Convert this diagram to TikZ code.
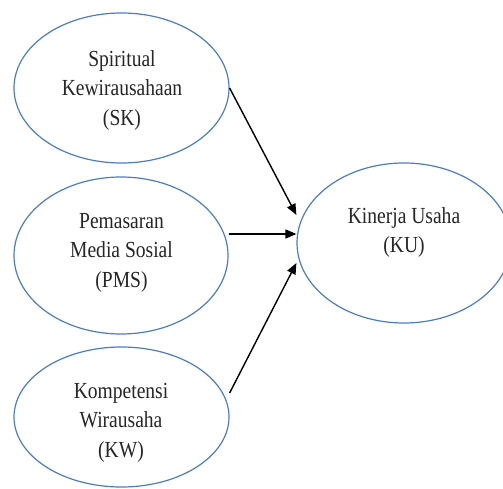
\documentclass[tikz,border=0pt]{standalone}
\usepackage{fontspec}
\setmainfont{Liberation Serif}
\usetikzlibrary{shapes.geometric,arrows.meta,calc}
\definecolor{ellblue}{HTML}{4A7EC4}
\newcommand{\lbltext}[1]{\scalebox{0.85}[1]{\fontsize{23}{29.5}\selectfont\begin{tabular}{@{}c@{}}#1\end{tabular}}}
\begin{document}
\begin{tikzpicture}[x=1pt,y=1pt,
  varell/.style={ellipse,draw=ellblue,line width=1.2pt,inner sep=0pt},
  lbl/.style={inner sep=0pt,text=black!85},
  conn/.style={line width=1.4pt,-{Triangle[length=11pt,width=9pt]}}]
\useasboundingbox (0,0) rectangle (503,488);
\fill[white] (0,0) rectangle (503,488);
\node[varell,minimum width=215,minimum height=150] (sk) at (121.5,400) {};
\node[varell,minimum width=214,minimum height=157] (pms) at (121,232.5) {};
\node[varell,minimum width=215,minimum height=140] (kw) at (121.5,71) {};
\node[varell,minimum width=214,minimum height=160] (ku) at (404,245) {};
\node[lbl] (sklbl) at (122,398) {\lbltext{Spiritual\\Kewirausahaan\\(SK)}};
\node[lbl] (pmslbl) at (121.5,236) {\lbltext{Pemasaran\\Media Sosial\\(PMS)}};
\node[lbl] (kwlbl) at (121,66) {\lbltext{Kompetensi\\Wirausaha\\(KW)}};
\node[lbl] (kulbl) at (404,256) {\lbltext{Kinerja Usaha\\(KU)}};
\draw[conn] (sk.east) -- ($(ku.west)+(0,28)$);
\draw[conn] ($(pms.east)+(0,21.5)$) -- ($(ku.west)+(0,9)$);
\draw[conn] ($(kw.east)+(0,24)$) -- ($(ku.west)+(0,-20)$);
\end{tikzpicture}
\end{document}
